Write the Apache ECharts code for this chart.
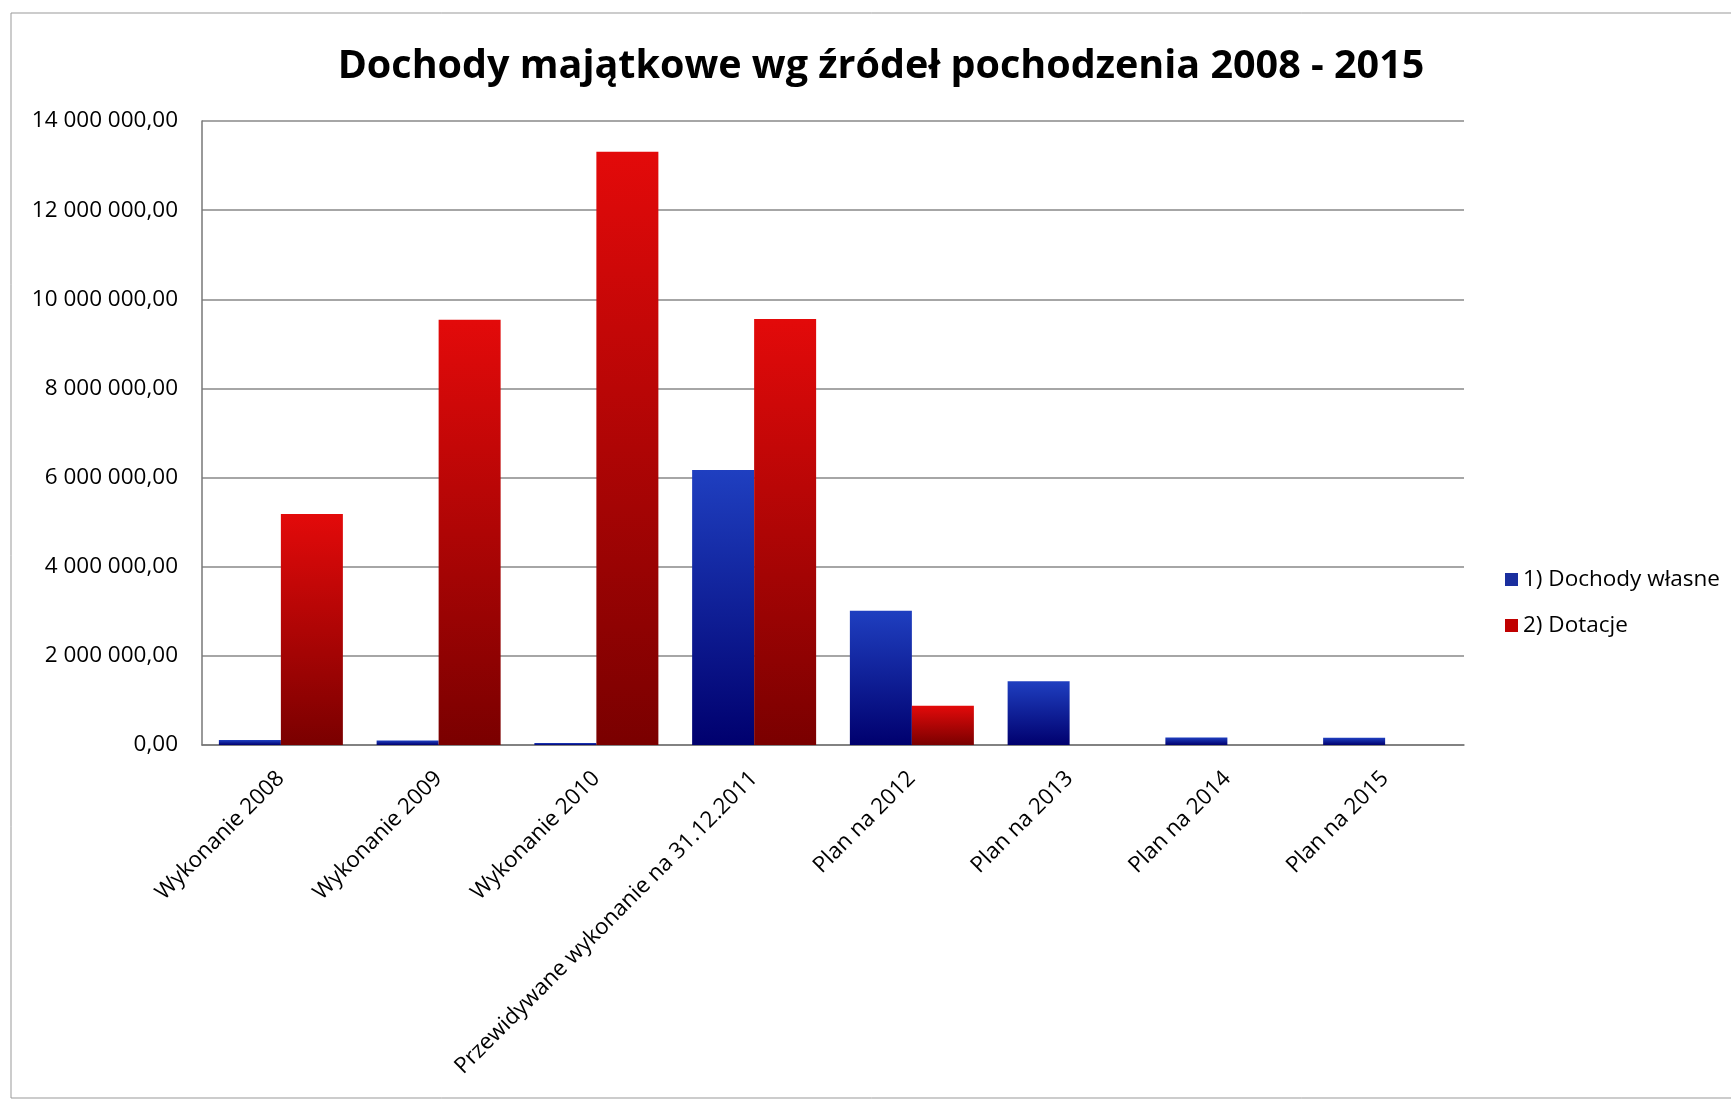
<!DOCTYPE html>
<html>
<head>
<meta charset="utf-8">
<title>Dochody majątkowe</title>
<script src="https://cdn.jsdelivr.net/npm/echarts@6/dist/echarts.min.js"></script>
<style>
  html, body { margin: 0; padding: 0; background: #fff; }
  #chart { width: 1731px; height: 1102px; }
</style>
</head>
<body>
<div id="chart"></div>
<script>
// dane
const categories = [
  'Wykonanie 2008',
  'Wykonanie 2009',
  'Wykonanie 2010',
  'Przewidywane wykonanie na 31.12.2011',
  'Plan na 2012',
  'Plan na 2013',
  'Plan na 2014',
  'Plan na 2015'
]
const dochodyWlasne = [110000, 100000, 45000, 6170000, 3010000, 1430000, 170000, 160000]
const dotacje = [5180000, 9540000, 13310000, 9560000, 880000, 0, 0, 0]
const seriesNames = ['1) Dochody własne', '2) Dotacje']

const FONT = '"Open Sans", "DejaVu Sans", sans-serif'

// format "14 000 000,00"
const fmt = v => {
  const s = Math.round(v).toString().replace(/\B(?=(\d{3})+(?!\d))/g, ' ')
  return s + ',00'
}

const blueGrad = new echarts.graphic.LinearGradient(0, 0, 0, 1, [
  { offset: 0, color: '#1f3fc0' },
  { offset: 1, color: '#00006e' }
])
const redGrad = new echarts.graphic.LinearGradient(0, 0, 0, 1, [
  { offset: 0, color: '#e30a0a' },
  { offset: 1, color: '#7a0000' }
])

const chart = echarts.init(document.getElementById('chart'))

const option = {
  backgroundColor: '#fff',
  animation: false,
  title: {
    text: 'Dochody majątkowe wg źródeł pochodzenia 2008 - 2015',
    left: 876,
    textAlign: 'center',
    top: 42,
    textStyle: {
      fontFamily: FONT,
      fontSize: 39.5,
      fontWeight: 'bold',
      color: '#000'
    }
  },
  graphic: [
    {
      type: 'rect',
      shape: { x: 11, y: 13, width: 1740, height: 1085 },
      style: { fill: 'none', stroke: '#999', lineWidth: 1 },
      silent: true
    }
  ],
  legend: {
    orient: 'vertical',
    left: 1500,
    top: 563,
    itemWidth: 13,
    itemHeight: 13,
    itemGap: 23,
    icon: 'rect',
    textStyle: { fontFamily: FONT, fontSize: 22.5, color: '#000' },
    data: [
      { name: seriesNames[0], itemStyle: { color: '#1a2e9e' } },
      { name: seriesNames[1], itemStyle: { color: '#c00000' } }
    ]
  },
  grid: {
    left: 202,
    right: 267,
    top: 121,
    bottom: 357,
    containLabel: false
  },
  xAxis: {
    type: 'category',
    data: categories,
    axisLine: { show: true, lineStyle: { color: '#777', width: 1.5 } },
    axisTick: { show: false },
    axisLabel: {
      rotate: 45,
      interval: 0,
      margin: 30,
      fontFamily: FONT,
      fontSize: 22.3,
      color: '#000'
    }
  },
  yAxis: {
    type: 'value',
    min: 0,
    max: 14000000,
    interval: 2000000,
    axisLine: { show: true, lineStyle: { color: '#777', width: 1.5 } },
    axisTick: { show: false },
    splitLine: { lineStyle: { color: '#888', width: 1.5 } },
    axisLabel: {
      margin: 24,
      fontFamily: FONT,
      fontSize: 22.5,
      color: '#000',
      formatter: fmt
    }
  },
  series: [
    {
      name: seriesNames[0],
      type: 'bar',
      data: dochodyWlasne,
      barWidth: 62,
      barGap: '0%',
      itemStyle: { color: blueGrad }
    },
    {
      name: seriesNames[1],
      type: 'bar',
      data: dotacje,
      barWidth: 62,
      barGap: '0%',
      itemStyle: { color: redGrad }
    }
  ]
}

chart.setOption(option)
</script>
</body>
</html>
